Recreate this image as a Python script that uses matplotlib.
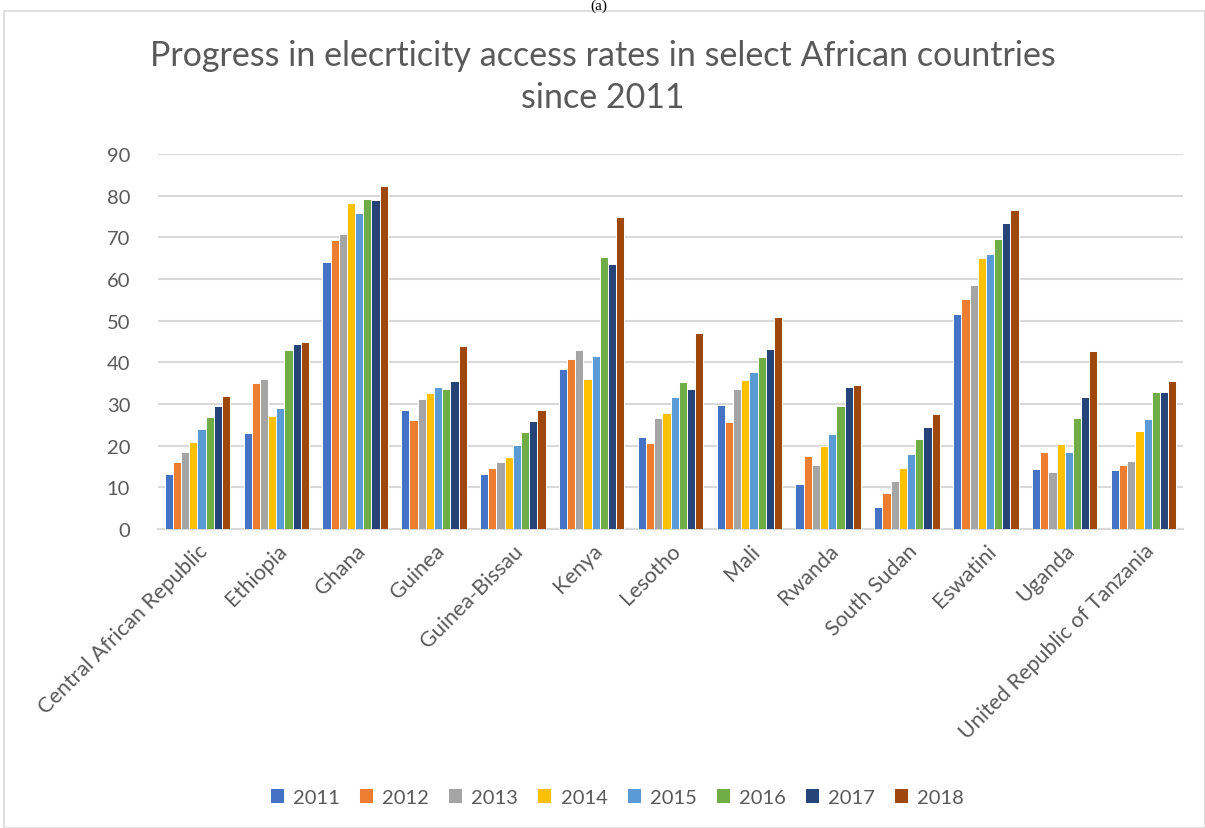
import matplotlib
matplotlib.use("Agg")
import matplotlib.pyplot as plt
import numpy as np
from matplotlib.patches import Rectangle

countries = ["Central African Republic", "Ethiopia", "Ghana", "Guinea", "Guinea-Bissau",
             "Kenya", "Lesotho", "Mali", "Rwanda", "South Sudan", "Eswatini", "Uganda",
             "United Republic of Tanzania"]
years = ["2011", "2012", "2013", "2014", "2015", "2016", "2017", "2018"]

v2011 = [13.2, 23.0, 64.0, 28.5, 13.3, 38.5, 22.2, 29.8, 10.8, 5.3, 51.6, 14.5, 14.1]
v2012 = [16.0, 35.0, 69.3, 26.2, 14.6, 40.8, 20.6, 25.7, 17.5, 8.6, 55.3, 18.5, 15.3]
v2013 = [18.5, 36.0, 70.7, 31.2, 16.0, 43.0, 26.6, 33.7, 15.3, 11.6, 58.6, 13.8, 16.4]
v2014 = [21.0, 27.2, 78.3, 32.6, 17.2, 36.0, 27.8, 35.8, 19.9, 14.7, 65.0, 20.4, 23.5]
v2015 = [24.0, 29.0, 75.8, 34.0, 20.2, 41.6, 31.8, 37.6, 22.8, 18.0, 65.9, 18.5, 26.5]
v2016 = [26.8, 43.0, 79.3, 33.5, 23.2, 65.4, 35.3, 41.3, 29.5, 21.5, 69.7, 26.7, 32.8]
v2017 = [29.5, 44.3, 79.0, 35.5, 26.0, 63.7, 33.7, 43.1, 34.0, 24.5, 73.5, 31.8, 32.8]
v2018 = [32.0, 45.0, 82.4, 44.0, 28.6, 75.0, 47.0, 51.0, 34.6, 27.7, 76.6, 42.7, 35.5]
series = [v2011, v2012, v2013, v2014, v2015, v2016, v2017, v2018]
colors = ["#4472C4", "#ED7D31", "#A5A5A5", "#FFC000", "#5B9BD5", "#70AD47", "#264478", "#9E480E"]
yticks = [0, 10, 20, 30, 40, 50, 60, 70, 80, 90]

font = ["Lato", "DejaVu Sans"]
plt.rcParams["font.family"] = font
textc = "#595959"

fig = plt.figure(figsize=(12.05, 8.29), dpi=100)
ax = fig.add_axes([158/1205, 1 - 530/829, (1183-158)/1205, (530-155)/829])

n = len(series)
x = np.arange(len(countries))
group = 0.83
w = group / n
for i, (vals, c, yr) in enumerate(zip(series, colors, years)):
    ax.bar(x - group/2 + w*(i+0.5), vals, width=w, color=c, edgecolor="white",
           linewidth=0.7, label=yr, zorder=3)

ax.set_xlim(-0.5, len(countries) - 0.5)
ax.set_ylim(0, 90)
ax.set_yticks(yticks)
ax.set_yticklabels([str(t) for t in yticks], fontsize=14.5, color=textc)
ax.set_xticks(x)
ax.set_xticklabels(countries, rotation=45, ha="right", rotation_mode="anchor",
                   fontsize=15.5, color=textc)
ax.tick_params(length=0, pad=8)
ax.tick_params(axis="y", pad=20)
ax.grid(axis="y", color="#d9d9d9", linewidth=1.5, zorder=0)
for s in ["top", "right", "left"]:
    ax.spines[s].set_visible(False)
ax.spines["bottom"].set_color("#d9d9d9")
ax.spines["bottom"].set_linewidth(1.5)

fig.text(0.5, 1 - 77/829, "Progress in elecrticity access rates in select African countries\nsince 2011",
         ha="center", va="center", fontsize=24.5, color=textc, linespacing=1.4)
fig.text(0.497, 1.0, "(a)", ha="center", va="top", fontsize=11, color="black",
         family=["Liberation Serif", "DejaVu Serif"])

border = Rectangle((4/1205, 0), 1 - 4/1205, 1 - 12/829, transform=fig.transFigure,
                   fill=False, edgecolor="#d9d9d9", linewidth=1.2)
fig.patches.append(border)

leg = fig.legend(loc="center", bbox_to_anchor=(0.512, 1 - 798/829), ncol=8, frameon=False,
                 fontsize=14.5, handlelength=0.7, handleheight=0.7, columnspacing=0.95,
                 handletextpad=0.45)
for t in leg.get_texts():
    t.set_color(textc)

fig.savefig("out.png", dpi=100)
